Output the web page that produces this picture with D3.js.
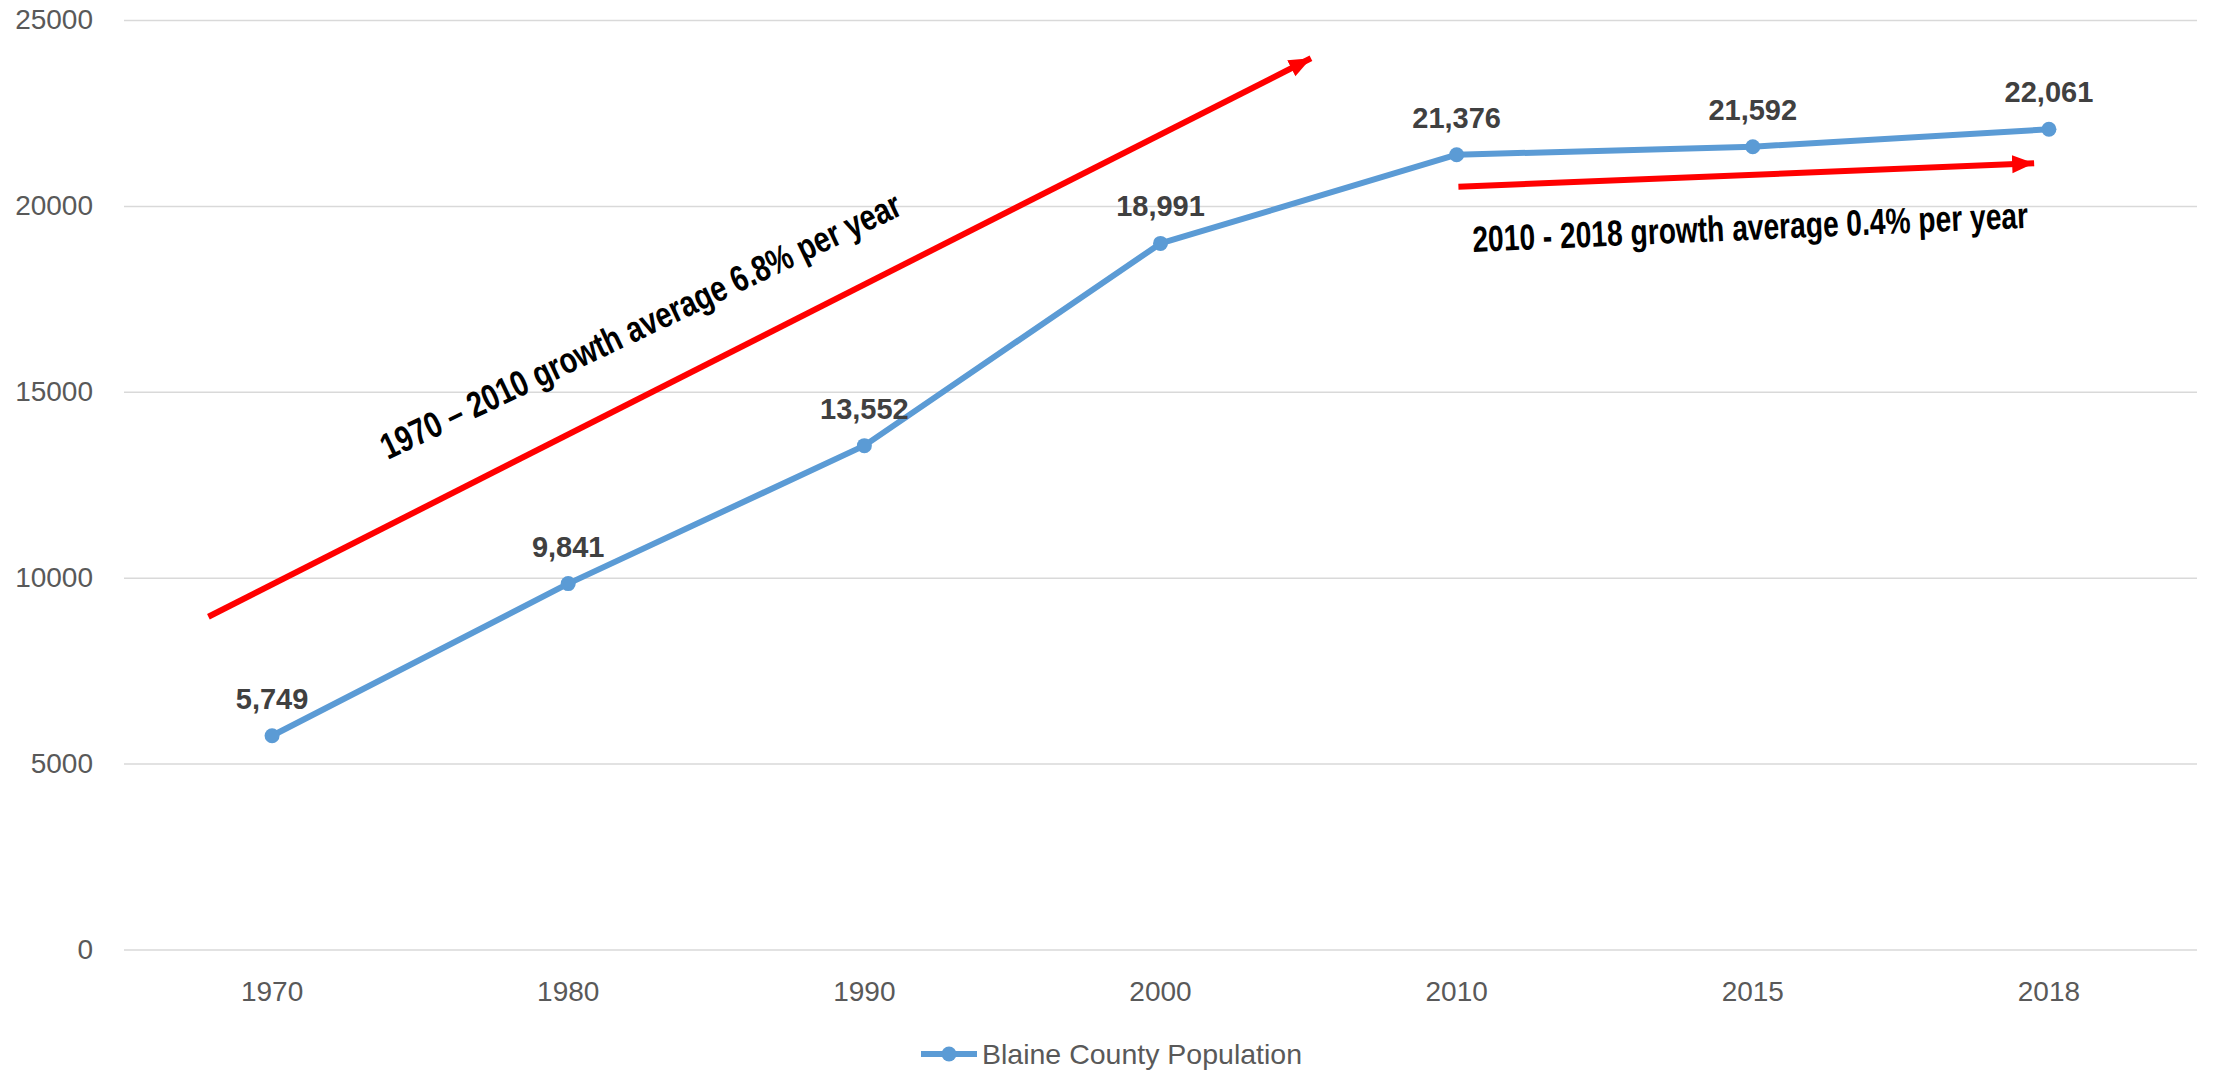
<!DOCTYPE html>
<html>
<head>
<meta charset="utf-8">
<script src="https://cdn.jsdelivr.net/npm/d3@7"></script>
<style>
  html, body { margin: 0; padding: 0; background: #ffffff; }
  svg { display: block; }
  text { font-family: "Liberation Sans", Arial, sans-serif; }
</style>
</head>
<body>
<svg id="chart" width="2219" height="1071"></svg>
<script>
// ---------- data ----------
const categories = ["1970", "1980", "1990", "2000", "2010", "2015", "2018"];
const population = [5749, 9841, 13552, 18991, 21376, 21592, 22061];
const yTicks = [0, 5000, 10000, 15000, 20000, 25000];
const seriesName = "Blaine County Population";

// annotations expressed in data terms: [category index (fractional), value]
const arrowLong = [[-0.215, 8951], [3.508, 23970]];
const arrowShort = [[4.006, 20516], [5.950, 21146]];
const noteLongText = "1970 – 2010 growth average 6.8% per year";
const noteLongAnchor = [0.391, 13166];
const noteShortText = "2010 - 2018 growth average 0.4% per year";
const noteShortAnchor = [4.055, 18761];

// ---------- layout ----------
const W = 2219, H = 1071;
const plot = { left: 124, right: 2197, top: 20, bottom: 949.5 };
const svg = d3.select("#chart");

const x = d3.scaleBand().domain(categories).range([plot.left, plot.right]).padding(0);
const cx = c => x(c) + x.bandwidth() / 2;
const xi = d3.scaleLinear().domain([0, categories.length - 1])
  .range([cx(categories[0]), cx(categories[categories.length - 1])]);
const y = d3.scaleLinear().domain([0, 25000]).range([plot.bottom, plot.top]);

// ---------- y axis + gridlines ----------
const yAxis = svg.append("g")
  .attr("transform", `translate(${plot.left},0)`)
  .call(d3.axisLeft(y).tickValues(yTicks).tickFormat(d3.format("d"))
    .tickSize(-(plot.right - plot.left)).tickPadding(31));
yAxis.select(".domain").remove();
yAxis.selectAll(".tick line").attr("stroke", "#d9d9d9").attr("stroke-width", 1.5);
yAxis.selectAll(".tick text").attr("fill", "#595959").attr("font-size", 28);

// ---------- x axis ----------
const xAxis = svg.append("g")
  .attr("transform", `translate(0,${plot.bottom})`)
  .call(d3.axisBottom(x).tickSize(0).tickPadding(32));
xAxis.select(".domain").remove();
xAxis.selectAll(".tick text").attr("fill", "#595959").attr("font-size", 28);

// ---------- series ----------
const blue = "#5b9bd5";
const pts = categories.map((c, i) => ({ c, v: population[i] }));
svg.append("path")
  .datum(pts)
  .attr("fill", "none")
  .attr("stroke", blue)
  .attr("stroke-width", 6)
  .attr("stroke-linejoin", "round")
  .attr("d", d3.line().x(d => cx(d.c)).y(d => y(d.v)));

svg.append("g").selectAll("circle")
  .data(pts).join("circle")
  .attr("cx", d => cx(d.c)).attr("cy", d => y(d.v)).attr("r", 7.5)
  .attr("fill", blue);

svg.append("g").selectAll("text")
  .data(pts).join("text")
  .attr("x", d => cx(d.c)).attr("y", d => y(d.v) - 27)
  .attr("text-anchor", "middle")
  .attr("font-size", 29).attr("font-weight", "bold").attr("fill", "#404040")
  .text(d => d3.format(",")(d.v));

// ---------- annotation arrows ----------
const defs = svg.append("defs");
defs.append("marker")
  .attr("id", "arrowhead")
  .attr("markerUnits", "userSpaceOnUse")
  .attr("markerWidth", 24).attr("markerHeight", 20)
  .attr("refX", 22).attr("refY", 9)
  .attr("orient", "auto")
  .append("path").attr("d", "M0,0 L22,9 L0,18 Z").attr("fill", "#ff0000");

function drawArrow(a) {
  const [p0, p1] = a.map(([i, v]) => [xi(i), y(v)]);
  svg.append("line")
    .attr("x1", p0[0]).attr("y1", p0[1]).attr("x2", p1[0]).attr("y2", p1[1])
    .attr("stroke", "#ff0000").attr("stroke-width", 6)
    .attr("marker-end", "url(#arrowhead)");
}
drawArrow(arrowLong);
drawArrow(arrowShort);

function drawNote(txt, anchor, angle, len) {
  svg.append("text")
    .attr("transform", `translate(${xi(anchor[0])},${y(anchor[1])}) rotate(${angle}) scale(1,1.4)`)
    .attr("font-size", 26).attr("font-weight", "bold").attr("fill", "#000000")
    .attr("textLength", len).attr("lengthAdjust", "spacingAndGlyphs")
    .text(txt);
}
drawNote(noteLongText, noteLongAnchor, -25.5, 572);
drawNote(noteShortText, noteShortAnchor, -2.5, 556);

// ---------- legend ----------
const lg = svg.append("g");
const legendY = 1054;
lg.append("line").attr("x1", 921).attr("x2", 977).attr("y1", legendY).attr("y2", legendY)
  .attr("stroke", blue).attr("stroke-width", 6);
lg.append("circle").attr("cx", 949).attr("cy", legendY).attr("r", 7.5).attr("fill", blue);
lg.append("text").attr("x", 982).attr("y", legendY).attr("dy", "0.35em")
  .attr("font-size", 28.5).attr("fill", "#595959").text(seriesName);
</script>
</body>
</html>
